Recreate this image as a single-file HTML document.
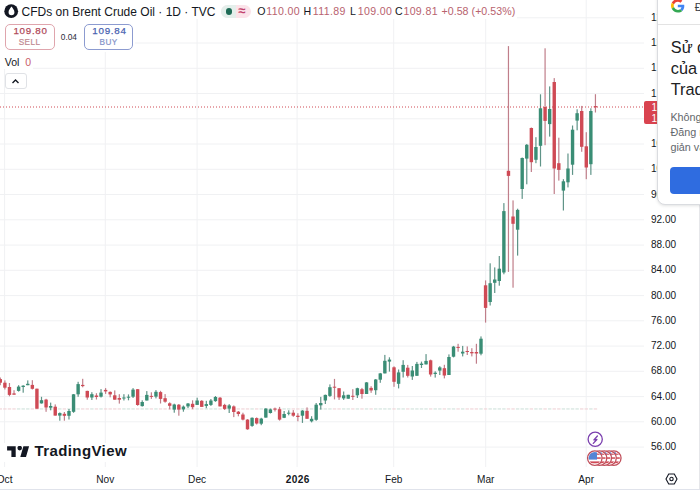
<!DOCTYPE html>
<html><head><meta charset="utf-8">
<style>
*{margin:0;padding:0;box-sizing:border-box}
html,body{width:700px;height:491px;overflow:hidden;background:#fff}
body{position:relative;font-family:"Liberation Sans",sans-serif;color:#131722}
.a{position:absolute;white-space:nowrap}
.pl{position:absolute;left:651px;font-size:10px;line-height:12px;color:#131722;width:30px}
.tl{position:absolute;top:474.3px;font-size:10.1px;line-height:12px;color:#131722;transform:translateX(-50%)}
.v{color:#b8626e;letter-spacing:0.35px}
.k{color:#131722}
</style></head><body>
<svg class="a" style="left:0;top:0" width="700" height="491" viewBox="0 0 700 491">
<line x1="0" y1="17.8" x2="644" y2="17.8" stroke="#f0f1f3" stroke-width="1"/>
<line x1="0" y1="43.0" x2="644" y2="43.0" stroke="#f0f1f3" stroke-width="1"/>
<line x1="0" y1="68.3" x2="644" y2="68.3" stroke="#f0f1f3" stroke-width="1"/>
<line x1="0" y1="93.5" x2="644" y2="93.5" stroke="#f0f1f3" stroke-width="1"/>
<line x1="0" y1="118.8" x2="644" y2="118.8" stroke="#f0f1f3" stroke-width="1"/>
<line x1="0" y1="144.0" x2="644" y2="144.0" stroke="#f0f1f3" stroke-width="1"/>
<line x1="0" y1="169.3" x2="644" y2="169.3" stroke="#f0f1f3" stroke-width="1"/>
<line x1="0" y1="194.5" x2="644" y2="194.5" stroke="#f0f1f3" stroke-width="1"/>
<line x1="0" y1="219.8" x2="644" y2="219.8" stroke="#f0f1f3" stroke-width="1"/>
<line x1="0" y1="245.1" x2="644" y2="245.1" stroke="#f0f1f3" stroke-width="1"/>
<line x1="0" y1="270.3" x2="644" y2="270.3" stroke="#f0f1f3" stroke-width="1"/>
<line x1="0" y1="295.6" x2="644" y2="295.6" stroke="#f0f1f3" stroke-width="1"/>
<line x1="0" y1="320.8" x2="644" y2="320.8" stroke="#f0f1f3" stroke-width="1"/>
<line x1="0" y1="346.1" x2="644" y2="346.1" stroke="#f0f1f3" stroke-width="1"/>
<line x1="0" y1="371.3" x2="644" y2="371.3" stroke="#f0f1f3" stroke-width="1"/>
<line x1="0" y1="396.6" x2="644" y2="396.6" stroke="#f0f1f3" stroke-width="1"/>
<line x1="0" y1="421.8" x2="644" y2="421.8" stroke="#f0f1f3" stroke-width="1"/>
<line x1="0" y1="447.1" x2="644" y2="447.1" stroke="#f0f1f3" stroke-width="1"/>
<line x1="4.6" y1="0" x2="4.6" y2="467" stroke="#f0f1f3" stroke-width="1"/>
<line x1="105.3" y1="0" x2="105.3" y2="467" stroke="#f0f1f3" stroke-width="1"/>
<line x1="197.1" y1="0" x2="197.1" y2="467" stroke="#f0f1f3" stroke-width="1"/>
<line x1="297.1" y1="0" x2="297.1" y2="467" stroke="#f0f1f3" stroke-width="1"/>
<line x1="393.7" y1="0" x2="393.7" y2="467" stroke="#f0f1f3" stroke-width="1"/>
<line x1="485.7" y1="0" x2="485.7" y2="467" stroke="#f0f1f3" stroke-width="1"/>
<line x1="586.2" y1="0" x2="586.2" y2="467" stroke="#f0f1f3" stroke-width="1"/>
<rect x="-1.40" y="408.4" width="3.4" height="1.1" fill="#efd2d6"/>
<rect x="3.18" y="408.4" width="3.4" height="1.1" fill="#efd2d6"/>
<rect x="7.76" y="408.4" width="3.4" height="1.1" fill="#efd2d6"/>
<rect x="12.33" y="408.4" width="3.4" height="1.1" fill="#efd2d6"/>
<rect x="16.91" y="408.4" width="3.4" height="1.1" fill="#cfe2db"/>
<rect x="21.49" y="408.4" width="3.4" height="1.1" fill="#cfe2db"/>
<rect x="26.07" y="408.4" width="3.4" height="1.1" fill="#cfe2db"/>
<rect x="30.65" y="408.4" width="3.4" height="1.1" fill="#efd2d6"/>
<rect x="35.22" y="408.4" width="3.4" height="1.1" fill="#efd2d6"/>
<rect x="39.80" y="408.4" width="3.4" height="1.1" fill="#cfe2db"/>
<rect x="44.38" y="408.4" width="3.4" height="1.1" fill="#efd2d6"/>
<rect x="48.96" y="408.4" width="3.4" height="1.1" fill="#cfe2db"/>
<rect x="53.54" y="408.4" width="3.4" height="1.1" fill="#efd2d6"/>
<rect x="58.11" y="408.4" width="3.4" height="1.1" fill="#cfe2db"/>
<rect x="62.69" y="408.4" width="3.4" height="1.1" fill="#efd2d6"/>
<rect x="67.27" y="408.4" width="3.4" height="1.1" fill="#cfe2db"/>
<rect x="71.85" y="408.4" width="3.4" height="1.1" fill="#cfe2db"/>
<rect x="76.43" y="408.4" width="3.4" height="1.1" fill="#cfe2db"/>
<rect x="81.00" y="408.4" width="3.4" height="1.1" fill="#efd2d6"/>
<rect x="85.58" y="408.4" width="3.4" height="1.1" fill="#efd2d6"/>
<rect x="90.16" y="408.4" width="3.4" height="1.1" fill="#cfe2db"/>
<rect x="94.74" y="408.4" width="3.4" height="1.1" fill="#efd2d6"/>
<rect x="99.32" y="408.4" width="3.4" height="1.1" fill="#cfe2db"/>
<rect x="103.89" y="408.4" width="3.4" height="1.1" fill="#efd2d6"/>
<rect x="108.47" y="408.4" width="3.4" height="1.1" fill="#efd2d6"/>
<rect x="113.05" y="408.4" width="3.4" height="1.1" fill="#efd2d6"/>
<rect x="117.63" y="408.4" width="3.4" height="1.1" fill="#efd2d6"/>
<rect x="122.21" y="408.4" width="3.4" height="1.1" fill="#cfe2db"/>
<rect x="126.78" y="408.4" width="3.4" height="1.1" fill="#cfe2db"/>
<rect x="131.36" y="408.4" width="3.4" height="1.1" fill="#cfe2db"/>
<rect x="135.94" y="408.4" width="3.4" height="1.1" fill="#efd2d6"/>
<rect x="140.52" y="408.4" width="3.4" height="1.1" fill="#cfe2db"/>
<rect x="145.10" y="408.4" width="3.4" height="1.1" fill="#cfe2db"/>
<rect x="149.67" y="408.4" width="3.4" height="1.1" fill="#efd2d6"/>
<rect x="154.25" y="408.4" width="3.4" height="1.1" fill="#cfe2db"/>
<rect x="158.83" y="408.4" width="3.4" height="1.1" fill="#efd2d6"/>
<rect x="163.41" y="408.4" width="3.4" height="1.1" fill="#efd2d6"/>
<rect x="167.99" y="408.4" width="3.4" height="1.1" fill="#efd2d6"/>
<rect x="172.56" y="408.4" width="3.4" height="1.1" fill="#cfe2db"/>
<rect x="177.14" y="408.4" width="3.4" height="1.1" fill="#efd2d6"/>
<rect x="181.72" y="408.4" width="3.4" height="1.1" fill="#cfe2db"/>
<rect x="186.30" y="408.4" width="3.4" height="1.1" fill="#cfe2db"/>
<rect x="190.88" y="408.4" width="3.4" height="1.1" fill="#efd2d6"/>
<rect x="195.45" y="408.4" width="3.4" height="1.1" fill="#cfe2db"/>
<rect x="200.03" y="408.4" width="3.4" height="1.1" fill="#efd2d6"/>
<rect x="204.61" y="408.4" width="3.4" height="1.1" fill="#cfe2db"/>
<rect x="209.19" y="408.4" width="3.4" height="1.1" fill="#cfe2db"/>
<rect x="213.77" y="408.4" width="3.4" height="1.1" fill="#cfe2db"/>
<rect x="218.34" y="408.4" width="3.4" height="1.1" fill="#efd2d6"/>
<rect x="222.92" y="408.4" width="3.4" height="1.1" fill="#efd2d6"/>
<rect x="227.50" y="408.4" width="3.4" height="1.1" fill="#cfe2db"/>
<rect x="232.08" y="408.4" width="3.4" height="1.1" fill="#efd2d6"/>
<rect x="236.66" y="408.4" width="3.4" height="1.1" fill="#efd2d6"/>
<rect x="241.23" y="408.4" width="3.4" height="1.1" fill="#efd2d6"/>
<rect x="245.81" y="408.4" width="3.4" height="1.1" fill="#efd2d6"/>
<rect x="250.39" y="408.4" width="3.4" height="1.1" fill="#cfe2db"/>
<rect x="254.97" y="408.4" width="3.4" height="1.1" fill="#efd2d6"/>
<rect x="259.55" y="408.4" width="3.4" height="1.1" fill="#cfe2db"/>
<rect x="264.12" y="408.4" width="3.4" height="1.1" fill="#cfe2db"/>
<rect x="268.70" y="408.4" width="3.4" height="1.1" fill="#cfe2db"/>
<rect x="273.28" y="408.4" width="3.4" height="1.1" fill="#efd2d6"/>
<rect x="277.86" y="408.4" width="3.4" height="1.1" fill="#efd2d6"/>
<rect x="282.44" y="408.4" width="3.4" height="1.1" fill="#cfe2db"/>
<rect x="287.01" y="408.4" width="3.4" height="1.1" fill="#cfe2db"/>
<rect x="291.59" y="408.4" width="3.4" height="1.1" fill="#efd2d6"/>
<rect x="296.17" y="408.4" width="3.4" height="1.1" fill="#efd2d6"/>
<rect x="300.75" y="408.4" width="3.4" height="1.1" fill="#cfe2db"/>
<rect x="305.33" y="408.4" width="3.4" height="1.1" fill="#efd2d6"/>
<rect x="309.90" y="408.4" width="3.4" height="1.1" fill="#cfe2db"/>
<rect x="314.48" y="408.4" width="3.4" height="1.1" fill="#cfe2db"/>
<rect x="319.06" y="408.4" width="3.4" height="1.1" fill="#cfe2db"/>
<rect x="323.64" y="408.4" width="3.4" height="1.1" fill="#cfe2db"/>
<rect x="328.22" y="408.4" width="3.4" height="1.1" fill="#cfe2db"/>
<rect x="332.79" y="408.4" width="3.4" height="1.1" fill="#efd2d6"/>
<rect x="337.37" y="408.4" width="3.4" height="1.1" fill="#efd2d6"/>
<rect x="341.95" y="408.4" width="3.4" height="1.1" fill="#cfe2db"/>
<rect x="346.53" y="408.4" width="3.4" height="1.1" fill="#cfe2db"/>
<rect x="351.11" y="408.4" width="3.4" height="1.1" fill="#efd2d6"/>
<rect x="355.68" y="408.4" width="3.4" height="1.1" fill="#cfe2db"/>
<rect x="360.26" y="408.4" width="3.4" height="1.1" fill="#efd2d6"/>
<rect x="364.84" y="408.4" width="3.4" height="1.1" fill="#cfe2db"/>
<rect x="369.42" y="408.4" width="3.4" height="1.1" fill="#efd2d6"/>
<rect x="374.00" y="408.4" width="3.4" height="1.1" fill="#cfe2db"/>
<rect x="378.57" y="408.4" width="3.4" height="1.1" fill="#cfe2db"/>
<rect x="383.15" y="408.4" width="3.4" height="1.1" fill="#cfe2db"/>
<rect x="387.73" y="408.4" width="3.4" height="1.1" fill="#cfe2db"/>
<rect x="392.31" y="408.4" width="3.4" height="1.1" fill="#efd2d6"/>
<rect x="396.89" y="408.4" width="3.4" height="1.1" fill="#cfe2db"/>
<rect x="401.46" y="408.4" width="3.4" height="1.1" fill="#cfe2db"/>
<rect x="406.04" y="408.4" width="3.4" height="1.1" fill="#efd2d6"/>
<rect x="410.62" y="408.4" width="3.4" height="1.1" fill="#cfe2db"/>
<rect x="415.20" y="408.4" width="3.4" height="1.1" fill="#cfe2db"/>
<rect x="419.78" y="408.4" width="3.4" height="1.1" fill="#cfe2db"/>
<rect x="424.35" y="408.4" width="3.4" height="1.1" fill="#cfe2db"/>
<rect x="428.93" y="408.4" width="3.4" height="1.1" fill="#efd2d6"/>
<rect x="433.51" y="408.4" width="3.4" height="1.1" fill="#cfe2db"/>
<rect x="438.09" y="408.4" width="3.4" height="1.1" fill="#cfe2db"/>
<rect x="442.67" y="408.4" width="3.4" height="1.1" fill="#efd2d6"/>
<rect x="447.24" y="408.4" width="3.4" height="1.1" fill="#cfe2db"/>
<rect x="451.82" y="408.4" width="3.4" height="1.1" fill="#cfe2db"/>
<rect x="456.40" y="408.4" width="3.4" height="1.1" fill="#efd2d6"/>
<rect x="460.98" y="408.4" width="3.4" height="1.1" fill="#cfe2db"/>
<rect x="465.56" y="408.4" width="3.4" height="1.1" fill="#efd2d6"/>
<rect x="470.13" y="408.4" width="3.4" height="1.1" fill="#efd2d6"/>
<rect x="474.71" y="408.4" width="3.4" height="1.1" fill="#efd2d6"/>
<rect x="479.29" y="408.4" width="3.4" height="1.1" fill="#cfe2db"/>
<rect x="483.87" y="408.4" width="3.4" height="1.1" fill="#efd2d6"/>
<rect x="488.45" y="408.4" width="3.4" height="1.1" fill="#cfe2db"/>
<rect x="493.02" y="408.4" width="3.4" height="1.1" fill="#cfe2db"/>
<rect x="497.60" y="408.4" width="3.4" height="1.1" fill="#cfe2db"/>
<rect x="502.18" y="408.4" width="3.4" height="1.1" fill="#cfe2db"/>
<rect x="506.76" y="408.4" width="3.4" height="1.1" fill="#efd2d6"/>
<rect x="511.34" y="408.4" width="3.4" height="1.1" fill="#efd2d6"/>
<rect x="515.91" y="408.4" width="3.4" height="1.1" fill="#cfe2db"/>
<rect x="520.49" y="408.4" width="3.4" height="1.1" fill="#cfe2db"/>
<rect x="525.07" y="408.4" width="3.4" height="1.1" fill="#cfe2db"/>
<rect x="529.65" y="408.4" width="3.4" height="1.1" fill="#efd2d6"/>
<rect x="534.23" y="408.4" width="3.4" height="1.1" fill="#cfe2db"/>
<rect x="538.80" y="408.4" width="3.4" height="1.1" fill="#cfe2db"/>
<rect x="543.38" y="408.4" width="3.4" height="1.1" fill="#efd2d6"/>
<rect x="547.96" y="408.4" width="3.4" height="1.1" fill="#cfe2db"/>
<rect x="552.54" y="408.4" width="3.4" height="1.1" fill="#efd2d6"/>
<rect x="557.12" y="408.4" width="3.4" height="1.1" fill="#efd2d6"/>
<rect x="561.69" y="408.4" width="3.4" height="1.1" fill="#cfe2db"/>
<rect x="566.27" y="408.4" width="3.4" height="1.1" fill="#cfe2db"/>
<rect x="570.85" y="408.4" width="3.4" height="1.1" fill="#cfe2db"/>
<rect x="575.43" y="408.4" width="3.4" height="1.1" fill="#cfe2db"/>
<rect x="580.01" y="408.4" width="3.4" height="1.1" fill="#efd2d6"/>
<rect x="584.58" y="408.4" width="3.4" height="1.1" fill="#efd2d6"/>
<rect x="589.16" y="408.4" width="3.4" height="1.1" fill="#cfe2db"/>
<rect x="593.74" y="408.4" width="3.4" height="1.1" fill="#efd2d6"/>
<rect x="-0.30" y="377.5" width="1.2" height="7.70" fill="#c07e8a"/>
<rect x="-1.40" y="379.1" width="3.4" height="3.60" fill="#cf4a55"/>
<rect x="4.28" y="380.4" width="1.2" height="9.10" fill="#c07e8a"/>
<rect x="3.18" y="382.7" width="3.4" height="5.00" fill="#cf4a55"/>
<rect x="8.86" y="383.0" width="1.2" height="13.30" fill="#c07e8a"/>
<rect x="7.76" y="387.0" width="3.4" height="7.90" fill="#cf4a55"/>
<rect x="13.43" y="390.2" width="1.2" height="4.50" fill="#c07e8a"/>
<rect x="12.33" y="393.4" width="3.4" height="1.30" fill="#cf4a55"/>
<rect x="18.01" y="385.2" width="1.2" height="6.40" fill="#5f9488"/>
<rect x="16.91" y="386.6" width="3.4" height="4.30" fill="#3a8d75"/>
<rect x="22.59" y="385.2" width="1.2" height="7.50" fill="#5f9488"/>
<rect x="21.49" y="385.7" width="3.4" height="1.30" fill="#3a8d75"/>
<rect x="27.17" y="380.4" width="1.2" height="4.80" fill="#5f9488"/>
<rect x="26.07" y="383.8" width="3.4" height="1.40" fill="#3a8d75"/>
<rect x="31.75" y="380.2" width="1.2" height="9.30" fill="#c07e8a"/>
<rect x="30.65" y="384.9" width="3.4" height="3.90" fill="#cf4a55"/>
<rect x="36.32" y="388.6" width="1.2" height="20.10" fill="#c07e8a"/>
<rect x="35.22" y="388.7" width="3.4" height="20.00" fill="#cf4a55"/>
<rect x="40.90" y="396.8" width="1.2" height="6.80" fill="#5f9488"/>
<rect x="39.80" y="400.2" width="3.4" height="3.20" fill="#3a8d75"/>
<rect x="45.48" y="398.8" width="1.2" height="13.00" fill="#c07e8a"/>
<rect x="44.38" y="399.6" width="3.4" height="7.90" fill="#cf4a55"/>
<rect x="50.06" y="402.6" width="1.2" height="7.70" fill="#5f9488"/>
<rect x="48.96" y="406.0" width="3.4" height="1.70" fill="#3a8d75"/>
<rect x="54.64" y="404.4" width="1.2" height="11.20" fill="#c07e8a"/>
<rect x="53.54" y="406.7" width="3.4" height="8.90" fill="#cf4a55"/>
<rect x="59.21" y="412.4" width="1.2" height="8.30" fill="#5f9488"/>
<rect x="58.11" y="413.1" width="3.4" height="2.50" fill="#3a8d75"/>
<rect x="63.79" y="412.0" width="1.2" height="8.70" fill="#c07e8a"/>
<rect x="62.69" y="413.8" width="3.4" height="2.00" fill="#cf4a55"/>
<rect x="68.37" y="409.0" width="1.2" height="10.50" fill="#5f9488"/>
<rect x="67.27" y="411.0" width="3.4" height="4.80" fill="#3a8d75"/>
<rect x="72.95" y="394.0" width="1.2" height="18.80" fill="#5f9488"/>
<rect x="71.85" y="394.3" width="3.4" height="17.50" fill="#3a8d75"/>
<rect x="77.53" y="381.8" width="1.2" height="15.00" fill="#5f9488"/>
<rect x="76.43" y="384.1" width="3.4" height="10.20" fill="#3a8d75"/>
<rect x="82.10" y="378.8" width="1.2" height="8.50" fill="#c07e8a"/>
<rect x="81.00" y="384.9" width="3.4" height="1.20" fill="#cf4a55"/>
<rect x="86.68" y="390.7" width="1.2" height="9.00" fill="#c07e8a"/>
<rect x="85.58" y="390.9" width="3.4" height="6.60" fill="#cf4a55"/>
<rect x="91.26" y="392.2" width="1.2" height="7.80" fill="#5f9488"/>
<rect x="90.16" y="394.2" width="3.4" height="3.30" fill="#3a8d75"/>
<rect x="95.84" y="393.2" width="1.2" height="6.30" fill="#c07e8a"/>
<rect x="94.74" y="395.5" width="3.4" height="1.50" fill="#cf4a55"/>
<rect x="100.42" y="389.1" width="1.2" height="8.40" fill="#5f9488"/>
<rect x="99.32" y="392.6" width="3.4" height="4.10" fill="#3a8d75"/>
<rect x="104.99" y="388.1" width="1.2" height="5.80" fill="#c07e8a"/>
<rect x="103.89" y="389.9" width="3.4" height="1.50" fill="#cf4a55"/>
<rect x="109.57" y="391.4" width="1.2" height="5.90" fill="#c07e8a"/>
<rect x="108.47" y="391.9" width="3.4" height="2.50" fill="#cf4a55"/>
<rect x="114.15" y="390.4" width="1.2" height="9.30" fill="#c07e8a"/>
<rect x="113.05" y="395.3" width="3.4" height="4.40" fill="#cf4a55"/>
<rect x="118.73" y="394.2" width="1.2" height="9.40" fill="#c07e8a"/>
<rect x="117.63" y="398.0" width="3.4" height="1.70" fill="#cf4a55"/>
<rect x="123.31" y="394.2" width="1.2" height="6.30" fill="#5f9488"/>
<rect x="122.21" y="397.5" width="3.4" height="1.00" fill="#3a8d75"/>
<rect x="127.88" y="394.4" width="1.2" height="5.90" fill="#5f9488"/>
<rect x="126.78" y="396.7" width="3.4" height="1.00" fill="#3a8d75"/>
<rect x="132.46" y="388.1" width="1.2" height="9.90" fill="#5f9488"/>
<rect x="131.36" y="389.6" width="3.4" height="7.10" fill="#3a8d75"/>
<rect x="137.04" y="389.0" width="1.2" height="16.80" fill="#c07e8a"/>
<rect x="135.94" y="389.2" width="3.4" height="15.80" fill="#cf4a55"/>
<rect x="141.62" y="400.3" width="1.2" height="6.30" fill="#5f9488"/>
<rect x="140.52" y="402.0" width="3.4" height="4.10" fill="#3a8d75"/>
<rect x="146.20" y="391.1" width="1.2" height="9.40" fill="#5f9488"/>
<rect x="145.10" y="394.9" width="3.4" height="5.60" fill="#3a8d75"/>
<rect x="150.77" y="392.3" width="1.2" height="6.60" fill="#c07e8a"/>
<rect x="149.67" y="395.9" width="3.4" height="1.00" fill="#cf4a55"/>
<rect x="155.35" y="390.1" width="1.2" height="8.30" fill="#5f9488"/>
<rect x="154.25" y="391.8" width="3.4" height="4.80" fill="#3a8d75"/>
<rect x="159.93" y="390.8" width="1.2" height="12.70" fill="#c07e8a"/>
<rect x="158.83" y="392.1" width="3.4" height="6.80" fill="#cf4a55"/>
<rect x="164.51" y="394.1" width="1.2" height="8.60" fill="#c07e8a"/>
<rect x="163.41" y="398.2" width="3.4" height="3.50" fill="#cf4a55"/>
<rect x="169.09" y="402.3" width="1.2" height="7.10" fill="#c07e8a"/>
<rect x="167.99" y="403.3" width="3.4" height="2.50" fill="#cf4a55"/>
<rect x="173.66" y="403.7" width="1.2" height="9.00" fill="#5f9488"/>
<rect x="172.56" y="404.5" width="3.4" height="5.10" fill="#3a8d75"/>
<rect x="178.24" y="404.0" width="1.2" height="11.70" fill="#c07e8a"/>
<rect x="177.14" y="404.7" width="3.4" height="4.90" fill="#cf4a55"/>
<rect x="182.82" y="405.5" width="1.2" height="6.20" fill="#5f9488"/>
<rect x="181.72" y="406.6" width="3.4" height="2.80" fill="#3a8d75"/>
<rect x="187.40" y="403.0" width="1.2" height="5.00" fill="#5f9488"/>
<rect x="186.30" y="403.5" width="3.4" height="2.90" fill="#3a8d75"/>
<rect x="191.98" y="400.3" width="1.2" height="8.90" fill="#c07e8a"/>
<rect x="190.88" y="403.8" width="3.4" height="3.40" fill="#cf4a55"/>
<rect x="196.55" y="397.7" width="1.2" height="7.20" fill="#5f9488"/>
<rect x="195.45" y="400.5" width="3.4" height="4.40" fill="#3a8d75"/>
<rect x="201.13" y="400.1" width="1.2" height="6.80" fill="#c07e8a"/>
<rect x="200.03" y="400.8" width="3.4" height="6.10" fill="#cf4a55"/>
<rect x="205.71" y="400.8" width="1.2" height="7.40" fill="#5f9488"/>
<rect x="204.61" y="404.1" width="3.4" height="1.80" fill="#3a8d75"/>
<rect x="210.29" y="399.0" width="1.2" height="6.90" fill="#5f9488"/>
<rect x="209.19" y="400.5" width="3.4" height="4.40" fill="#3a8d75"/>
<rect x="214.87" y="396.0" width="1.2" height="5.80" fill="#5f9488"/>
<rect x="213.77" y="397.0" width="3.4" height="4.10" fill="#3a8d75"/>
<rect x="219.44" y="397.0" width="1.2" height="9.40" fill="#c07e8a"/>
<rect x="218.34" y="397.7" width="3.4" height="8.70" fill="#cf4a55"/>
<rect x="224.02" y="403.8" width="1.2" height="6.20" fill="#c07e8a"/>
<rect x="222.92" y="404.9" width="3.4" height="4.00" fill="#cf4a55"/>
<rect x="228.60" y="404.1" width="1.2" height="8.90" fill="#5f9488"/>
<rect x="227.50" y="405.4" width="3.4" height="3.20" fill="#3a8d75"/>
<rect x="233.18" y="405.4" width="1.2" height="11.70" fill="#c07e8a"/>
<rect x="232.08" y="406.4" width="3.4" height="5.60" fill="#cf4a55"/>
<rect x="237.76" y="411.0" width="1.2" height="5.30" fill="#c07e8a"/>
<rect x="236.66" y="411.7" width="3.4" height="2.30" fill="#cf4a55"/>
<rect x="242.33" y="412.7" width="1.2" height="7.70" fill="#c07e8a"/>
<rect x="241.23" y="414.5" width="3.4" height="5.10" fill="#cf4a55"/>
<rect x="246.91" y="419.1" width="1.2" height="10.70" fill="#c07e8a"/>
<rect x="245.81" y="419.6" width="3.4" height="9.70" fill="#cf4a55"/>
<rect x="251.49" y="417.4" width="1.2" height="9.40" fill="#5f9488"/>
<rect x="250.39" y="417.8" width="3.4" height="8.10" fill="#3a8d75"/>
<rect x="256.07" y="417.4" width="1.2" height="7.10" fill="#c07e8a"/>
<rect x="254.97" y="418.1" width="3.4" height="5.40" fill="#cf4a55"/>
<rect x="260.65" y="417.8" width="1.2" height="7.40" fill="#5f9488"/>
<rect x="259.55" y="418.6" width="3.4" height="5.10" fill="#3a8d75"/>
<rect x="265.22" y="408.2" width="1.2" height="9.40" fill="#5f9488"/>
<rect x="264.12" y="408.6" width="3.4" height="9.00" fill="#3a8d75"/>
<rect x="269.80" y="408.6" width="1.2" height="4.90" fill="#5f9488"/>
<rect x="268.70" y="409.4" width="3.4" height="3.60" fill="#3a8d75"/>
<rect x="274.38" y="407.6" width="1.2" height="3.90" fill="#c07e8a"/>
<rect x="273.28" y="408.6" width="3.4" height="1.00" fill="#cf4a55"/>
<rect x="278.96" y="406.9" width="1.2" height="13.70" fill="#c07e8a"/>
<rect x="277.86" y="409.2" width="3.4" height="10.40" fill="#cf4a55"/>
<rect x="283.54" y="411.0" width="1.2" height="7.10" fill="#5f9488"/>
<rect x="282.44" y="414.0" width="3.4" height="3.80" fill="#3a8d75"/>
<rect x="288.11" y="410.3" width="1.2" height="5.00" fill="#5f9488"/>
<rect x="287.01" y="412.7" width="3.4" height="1.00" fill="#3a8d75"/>
<rect x="292.69" y="410.1" width="1.2" height="6.70" fill="#c07e8a"/>
<rect x="291.59" y="412.7" width="3.4" height="3.00" fill="#cf4a55"/>
<rect x="297.27" y="413.2" width="1.2" height="8.10" fill="#c07e8a"/>
<rect x="296.17" y="415.7" width="3.4" height="1.30" fill="#cf4a55"/>
<rect x="301.85" y="410.1" width="1.2" height="12.80" fill="#5f9488"/>
<rect x="300.75" y="410.6" width="3.4" height="5.10" fill="#3a8d75"/>
<rect x="306.43" y="407.4" width="1.2" height="11.40" fill="#c07e8a"/>
<rect x="305.33" y="410.8" width="3.4" height="8.00" fill="#cf4a55"/>
<rect x="311.00" y="416.2" width="1.2" height="6.20" fill="#5f9488"/>
<rect x="309.90" y="418.8" width="3.4" height="2.50" fill="#3a8d75"/>
<rect x="315.58" y="403.0" width="1.2" height="17.80" fill="#5f9488"/>
<rect x="314.48" y="404.7" width="3.4" height="15.10" fill="#3a8d75"/>
<rect x="320.16" y="396.9" width="1.2" height="12.70" fill="#5f9488"/>
<rect x="319.06" y="403.0" width="3.4" height="2.30" fill="#3a8d75"/>
<rect x="324.74" y="394.6" width="1.2" height="9.40" fill="#5f9488"/>
<rect x="323.64" y="394.9" width="3.4" height="5.60" fill="#3a8d75"/>
<rect x="329.32" y="384.4" width="1.2" height="12.50" fill="#5f9488"/>
<rect x="328.22" y="387.2" width="3.4" height="8.70" fill="#3a8d75"/>
<rect x="333.89" y="378.9" width="1.2" height="20.50" fill="#c07e8a"/>
<rect x="332.79" y="386.7" width="3.4" height="1.00" fill="#cf4a55"/>
<rect x="338.47" y="388.2" width="1.2" height="11.70" fill="#c07e8a"/>
<rect x="337.37" y="388.2" width="3.4" height="9.20" fill="#cf4a55"/>
<rect x="343.05" y="391.5" width="1.2" height="8.40" fill="#5f9488"/>
<rect x="341.95" y="395.3" width="3.4" height="3.10" fill="#3a8d75"/>
<rect x="347.63" y="394.8" width="1.2" height="3.90" fill="#5f9488"/>
<rect x="346.53" y="394.8" width="3.4" height="3.90" fill="#3a8d75"/>
<rect x="352.21" y="389.2" width="1.2" height="10.80" fill="#c07e8a"/>
<rect x="351.11" y="395.8" width="3.4" height="1.00" fill="#cf4a55"/>
<rect x="356.78" y="387.7" width="1.2" height="10.30" fill="#5f9488"/>
<rect x="355.68" y="388.2" width="3.4" height="7.10" fill="#3a8d75"/>
<rect x="361.36" y="387.9" width="1.2" height="10.80" fill="#c07e8a"/>
<rect x="360.26" y="389.2" width="3.4" height="4.80" fill="#cf4a55"/>
<rect x="365.94" y="382.1" width="1.2" height="11.90" fill="#5f9488"/>
<rect x="364.84" y="382.4" width="3.4" height="11.60" fill="#3a8d75"/>
<rect x="370.52" y="386.2" width="1.2" height="6.60" fill="#c07e8a"/>
<rect x="369.42" y="387.9" width="3.4" height="2.60" fill="#cf4a55"/>
<rect x="375.10" y="379.0" width="1.2" height="15.80" fill="#5f9488"/>
<rect x="374.00" y="379.5" width="3.4" height="10.70" fill="#3a8d75"/>
<rect x="379.67" y="372.9" width="1.2" height="9.90" fill="#5f9488"/>
<rect x="378.57" y="373.4" width="3.4" height="6.30" fill="#3a8d75"/>
<rect x="384.25" y="354.9" width="1.2" height="18.50" fill="#5f9488"/>
<rect x="383.15" y="360.8" width="3.4" height="12.60" fill="#3a8d75"/>
<rect x="388.83" y="357.3" width="1.2" height="14.30" fill="#5f9488"/>
<rect x="387.73" y="359.6" width="3.4" height="2.00" fill="#3a8d75"/>
<rect x="393.41" y="366.3" width="1.2" height="20.50" fill="#c07e8a"/>
<rect x="392.31" y="367.3" width="3.4" height="14.50" fill="#cf4a55"/>
<rect x="397.99" y="369.5" width="1.2" height="18.90" fill="#5f9488"/>
<rect x="396.89" y="372.4" width="3.4" height="11.40" fill="#3a8d75"/>
<rect x="402.56" y="360.2" width="1.2" height="17.30" fill="#5f9488"/>
<rect x="401.46" y="364.9" width="3.4" height="6.90" fill="#3a8d75"/>
<rect x="407.14" y="364.9" width="1.2" height="12.60" fill="#c07e8a"/>
<rect x="406.04" y="367.7" width="3.4" height="8.10" fill="#cf4a55"/>
<rect x="411.72" y="366.0" width="1.2" height="13.90" fill="#5f9488"/>
<rect x="410.62" y="370.5" width="3.4" height="6.00" fill="#3a8d75"/>
<rect x="416.30" y="361.9" width="1.2" height="13.90" fill="#5f9488"/>
<rect x="415.20" y="363.9" width="3.4" height="11.90" fill="#3a8d75"/>
<rect x="420.88" y="361.6" width="1.2" height="6.40" fill="#5f9488"/>
<rect x="419.78" y="363.6" width="3.4" height="1.40" fill="#3a8d75"/>
<rect x="425.45" y="354.1" width="1.2" height="10.30" fill="#5f9488"/>
<rect x="424.35" y="360.9" width="3.4" height="3.50" fill="#3a8d75"/>
<rect x="430.03" y="359.6" width="1.2" height="17.00" fill="#c07e8a"/>
<rect x="428.93" y="360.3" width="3.4" height="14.20" fill="#cf4a55"/>
<rect x="434.61" y="371.3" width="1.2" height="6.30" fill="#5f9488"/>
<rect x="433.51" y="372.7" width="3.4" height="1.30" fill="#3a8d75"/>
<rect x="439.19" y="366.2" width="1.2" height="8.80" fill="#5f9488"/>
<rect x="438.09" y="367.4" width="3.4" height="3.20" fill="#3a8d75"/>
<rect x="443.77" y="364.8" width="1.2" height="13.60" fill="#c07e8a"/>
<rect x="442.67" y="368.2" width="3.4" height="7.30" fill="#cf4a55"/>
<rect x="448.34" y="354.4" width="1.2" height="20.60" fill="#5f9488"/>
<rect x="447.24" y="357.0" width="3.4" height="18.00" fill="#3a8d75"/>
<rect x="452.92" y="345.9" width="1.2" height="11.50" fill="#5f9488"/>
<rect x="451.82" y="346.6" width="3.4" height="10.10" fill="#3a8d75"/>
<rect x="457.50" y="343.8" width="1.2" height="7.90" fill="#c07e8a"/>
<rect x="456.40" y="346.9" width="3.4" height="1.00" fill="#cf4a55"/>
<rect x="462.08" y="345.9" width="1.2" height="10.50" fill="#5f9488"/>
<rect x="460.98" y="351.7" width="3.4" height="1.80" fill="#3a8d75"/>
<rect x="466.66" y="346.4" width="1.2" height="8.60" fill="#c07e8a"/>
<rect x="465.56" y="351.0" width="3.4" height="1.00" fill="#cf4a55"/>
<rect x="471.23" y="348.2" width="1.2" height="8.20" fill="#c07e8a"/>
<rect x="470.13" y="352.0" width="3.4" height="1.30" fill="#cf4a55"/>
<rect x="475.81" y="343.8" width="1.2" height="19.90" fill="#c07e8a"/>
<rect x="474.71" y="352.0" width="3.4" height="1.50" fill="#cf4a55"/>
<rect x="480.39" y="336.4" width="1.2" height="18.90" fill="#5f9488"/>
<rect x="479.29" y="338.7" width="3.4" height="15.00" fill="#3a8d75"/>
<rect x="484.97" y="280.4" width="1.2" height="42.20" fill="#c07e8a"/>
<rect x="483.87" y="285.3" width="3.4" height="22.60" fill="#cf4a55"/>
<rect x="489.55" y="263.3" width="1.2" height="42.20" fill="#5f9488"/>
<rect x="488.45" y="283.2" width="3.4" height="18.80" fill="#3a8d75"/>
<rect x="494.12" y="267.4" width="1.2" height="25.60" fill="#5f9488"/>
<rect x="493.02" y="279.5" width="3.4" height="3.30" fill="#3a8d75"/>
<rect x="498.70" y="256.0" width="1.2" height="29.70" fill="#5f9488"/>
<rect x="497.60" y="268.7" width="3.4" height="12.30" fill="#3a8d75"/>
<rect x="503.28" y="203.1" width="1.2" height="71.20" fill="#5f9488"/>
<rect x="502.18" y="211.1" width="3.4" height="61.40" fill="#3a8d75"/>
<rect x="507.86" y="46.1" width="1.2" height="225.80" fill="#c07e8a"/>
<rect x="506.76" y="170.8" width="3.4" height="5.10" fill="#cf4a55"/>
<rect x="512.44" y="200.4" width="1.2" height="87.30" fill="#c07e8a"/>
<rect x="511.34" y="216.5" width="3.4" height="7.30" fill="#cf4a55"/>
<rect x="517.01" y="208.7" width="1.2" height="46.90" fill="#5f9488"/>
<rect x="515.91" y="209.9" width="3.4" height="19.80" fill="#3a8d75"/>
<rect x="521.59" y="157.5" width="1.2" height="41.40" fill="#5f9488"/>
<rect x="520.49" y="158.0" width="3.4" height="31.00" fill="#3a8d75"/>
<rect x="526.17" y="144.0" width="1.2" height="40.30" fill="#5f9488"/>
<rect x="525.07" y="144.8" width="3.4" height="13.80" fill="#3a8d75"/>
<rect x="530.75" y="127.5" width="1.2" height="44.50" fill="#c07e8a"/>
<rect x="529.65" y="128.0" width="3.4" height="34.20" fill="#cf4a55"/>
<rect x="535.33" y="137.2" width="1.2" height="26.00" fill="#5f9488"/>
<rect x="534.23" y="147.0" width="3.4" height="12.80" fill="#3a8d75"/>
<rect x="539.90" y="94.3" width="1.2" height="72.20" fill="#5f9488"/>
<rect x="538.80" y="108.3" width="3.4" height="37.50" fill="#3a8d75"/>
<rect x="544.48" y="48.3" width="1.2" height="96.90" fill="#c07e8a"/>
<rect x="543.38" y="107.0" width="3.4" height="13.90" fill="#cf4a55"/>
<rect x="549.06" y="86.4" width="1.2" height="50.20" fill="#5f9488"/>
<rect x="547.96" y="109.0" width="3.4" height="15.10" fill="#3a8d75"/>
<rect x="553.64" y="78.1" width="1.2" height="115.90" fill="#c07e8a"/>
<rect x="552.54" y="82.0" width="3.4" height="86.50" fill="#cf4a55"/>
<rect x="558.22" y="137.7" width="1.2" height="42.90" fill="#c07e8a"/>
<rect x="557.12" y="163.2" width="3.4" height="6.70" fill="#cf4a55"/>
<rect x="562.79" y="179.2" width="1.2" height="31.30" fill="#5f9488"/>
<rect x="561.69" y="181.3" width="3.4" height="9.30" fill="#3a8d75"/>
<rect x="567.37" y="153.5" width="1.2" height="33.90" fill="#5f9488"/>
<rect x="566.27" y="168.5" width="3.4" height="13.80" fill="#3a8d75"/>
<rect x="571.95" y="125.5" width="1.2" height="49.40" fill="#5f9488"/>
<rect x="570.85" y="129.7" width="3.4" height="35.00" fill="#3a8d75"/>
<rect x="576.53" y="109.3" width="1.2" height="21.00" fill="#5f9488"/>
<rect x="575.43" y="113.2" width="3.4" height="7.40" fill="#3a8d75"/>
<rect x="581.11" y="105.9" width="1.2" height="45.90" fill="#c07e8a"/>
<rect x="580.01" y="111.0" width="3.4" height="35.80" fill="#cf4a55"/>
<rect x="585.68" y="132.2" width="1.2" height="47.00" fill="#c07e8a"/>
<rect x="584.58" y="146.3" width="3.4" height="21.20" fill="#cf4a55"/>
<rect x="590.26" y="108.3" width="1.2" height="66.60" fill="#5f9488"/>
<rect x="589.16" y="111.0" width="3.4" height="53.20" fill="#3a8d75"/>
<rect x="594.84" y="94.2" width="1.2" height="18.30" fill="#c07e8a"/>
<rect x="593.74" y="106.1" width="3.4" height="1.25" fill="#cf4a55"/>
<line x1="0" y1="107" x2="644" y2="107" stroke="#cf4a55" stroke-width="1" stroke-dasharray="1 2"/>
</svg>
<div class="pl" style="top:11.8px">124.00</div>
<div class="pl" style="top:37.0px">120.00</div>
<div class="pl" style="top:62.3px">1</div>
<div class="pl" style="top:87.5px">1</div>
<div class="pl" style="top:112.8px">108.00</div>
<div class="pl" style="top:138.0px">104.00</div>
<div class="pl" style="top:163.3px">100.00</div>
<div class="pl" style="top:188.5px">96.00</div>
<div class="pl" style="top:213.8px">92.00</div>
<div class="pl" style="top:239.1px">88.00</div>
<div class="pl" style="top:264.3px">84.00</div>
<div class="pl" style="top:289.6px">80.00</div>
<div class="pl" style="top:314.8px">76.00</div>
<div class="pl" style="top:340.1px">72.00</div>
<div class="pl" style="top:365.3px">68.00</div>
<div class="pl" style="top:390.6px">64.00</div>
<div class="pl" style="top:415.8px">60.00</div>
<div class="pl" style="top:441.1px">56.00</div>
<!-- legend -->
<div class="a" style="left:0;top:0;width:517px;height:19px;background:#fff"></div>
<div class="a" style="left:0;top:19px;width:135px;height:32.5px;background:#fff"></div>
<div class="a" style="left:0;top:51.5px;width:32.5px;height:17px;background:#fff"></div>

<svg class="a" style="left:4px;top:4px" width="15" height="15" viewBox="0 0 15 15">
<circle cx="7.2" cy="7.2" r="6.9" fill="#131722"/>
<path transform="translate(7.5 7.2)" d="M0 -4.6 C1.2 -2.8 2.95 -1.2 2.95 1.1 A2.95 2.95 0 0 1 -2.95 1.1 C-2.95 -1.2 -1.2 -2.8 0 -4.6Z" fill="#fff"/>
</svg>
<div class="a" style="left:21.6px;top:4.7px;font-size:12px;line-height:14px;letter-spacing:0px;color:#131722">CFDs on Brent Crude Oil · 1D · TVC</div>
<div class="a" style="left:221px;top:4.5px;width:29.5px;height:13.5px;border-radius:7px;overflow:hidden;background:#fbe3e9">
 <div class="a" style="left:0;top:0;width:15px;height:13.5px;background:#e4efeb"></div>
 <div class="a" style="left:4.8px;top:3.8px;width:6.4px;height:6.4px;border-radius:50%;background:#1e6b56"></div>
 <div class="a" style="left:17.3px;top:-0.8px;font-size:13px;line-height:14px;font-weight:bold;color:#c2406b">≈</div>
</div>
<div class="a" style="left:0;top:5.2px;font-size:10.6px;line-height:13px">
<span class="a k" style="left:257.2px">O</span><span class="a v" style="left:266.3px">110.00</span>
<span class="a k" style="left:303.6px">H</span><span class="a v" style="left:312.8px">111.89</span>
<span class="a k" style="left:350px">L</span><span class="a v" style="left:357.8px">109.00</span>
<span class="a k" style="left:395px">C</span><span class="a v" style="left:403.4px">109.81</span>
<span class="a v" style="left:441.5px;letter-spacing:0.05px">+0.58 (+0.53%)</span>
</div>
<!-- sell / buy -->
<div class="a" style="left:4.5px;top:23.5px;width:50.3px;height:26px;border:1px solid #dfa5ad;border-radius:5px;background:#fff"></div>
<div class="a" style="left:4.5px;top:25.4px;width:50.3px;text-align:center;font-size:9.8px;line-height:11px;color:#b04a5a;letter-spacing:0.72px;text-indent:1.8px;-webkit-text-stroke:0.25px #b04a5a">109.80</div>
<div class="a" style="left:4.5px;top:38px;width:50.3px;text-align:center;font-size:8.2px;line-height:9px;color:#c08890;letter-spacing:0.5px;-webkit-text-stroke:0.2px #c08890">SELL</div>
<div class="a" style="left:60.8px;top:31.5px;font-size:8.3px;line-height:10px;color:#2a2e39">0.04</div>
<div class="a" style="left:84px;top:23.5px;width:49.3px;height:26px;border:1px solid #8c9bd0;border-radius:5px;background:#fff"></div>
<div class="a" style="left:84px;top:25.4px;width:49.3px;text-align:center;font-size:9.8px;line-height:11px;color:#4862b0;letter-spacing:0.72px;text-indent:1.6px;-webkit-text-stroke:0.25px #4862b0">109.84</div>
<div class="a" style="left:84px;top:38px;width:49.3px;text-align:center;font-size:8.2px;line-height:9px;color:#8492c8;letter-spacing:0.5px;-webkit-text-stroke:0.2px #8492c8">BUY</div>
<!-- vol -->
<div class="a" style="left:4.8px;top:56.2px;font-size:10.5px;line-height:12px;color:#131722">Vol</div>
<div class="a" style="left:25.3px;top:56.2px;font-size:10.5px;line-height:12px;color:#c9606b">0</div>
<div class="a" style="left:4.5px;top:73px;width:22px;height:15.5px;border:1px solid #e0e2e6;border-radius:3px;background:#fff"></div>
<svg class="a" style="left:11px;top:77px" width="9" height="9" viewBox="0 0 9 9"><path d="M1.5 6 L4.5 3 L7.5 6" fill="none" stroke="#131722" stroke-width="1.4"/></svg>
<!-- current price label -->
<div class="a" style="left:644.3px;top:100.7px;width:20px;height:23.6px;background:#d9434f;border-radius:2px 0 0 2px"></div>
<div class="a" style="left:651.5px;top:101.5px;font-size:10px;line-height:11px;color:#fff">109.81<br>1d 3h</div>
<!-- tv logo -->
<div class="a" style="left:0;top:442.5px;width:128px;height:19px;background:#fff"></div>
<svg class="a" style="left:7px;top:446px" width="23" height="11" viewBox="0 0 23 11">
<path d="M0.1 0.2 H8.7 V11 H4.4 V4.6 H0.1 Z" fill="#131722"/>
<circle cx="12.7" cy="2.1" r="2.3" fill="#131722"/>
<path d="M16.4 0.2 H22.1 L19 11 H13.3 Z" fill="#131722"/>
</svg>
<div class="a" style="left:34.5px;top:443.2px;font-size:15px;line-height:16px;font-weight:bold;letter-spacing:0.4px;color:#131722">TradingView</div>
<!-- time axis -->
<div class="tl" style="left:4.6px">Oct</div>
<div class="tl" style="left:105.3px">Nov</div>
<div class="tl" style="left:197.1px">Dec</div>
<div class="tl" style="left:297.8px;font-weight:bold;letter-spacing:0.4px">2026</div>
<div class="tl" style="left:393.7px">Feb</div>
<div class="tl" style="left:485.7px">Mar</div>
<div class="tl" style="left:586.2px">Apr</div>
<div class="a" style="left:0;top:488.5px;width:700px;height:1px;background:#e0e3eb"></div>
<!-- settings -->
<svg class="a" style="left:665px;top:473px" width="13" height="12" viewBox="0 0 13 12">
<path d="M3.7 1 H9.3 L12 6 L9.3 11 H3.7 L1 6 Z" fill="none" stroke="#131722" stroke-width="1.1"/>
<circle cx="6.5" cy="6" r="1.7" fill="none" stroke="#131722" stroke-width="1.1"/>
</svg>
<!-- lightning -->
<svg class="a" style="left:587px;top:431px" width="17" height="17" viewBox="0 0 17 17">
<circle cx="8.2" cy="8.3" r="7.1" fill="#fff" stroke="#7a3fae" stroke-width="1.3"/>
<path d="M10.4 5 L6.9 8.9 L9.9 8.5 L6.3 12.4" fill="none" stroke="#7a3fae" stroke-width="1.3" stroke-linecap="round" stroke-linejoin="round"/>
</svg>
<!-- flags -->
<svg class="a" style="left:586px;top:449px" width="38" height="19" viewBox="0 0 38 19">
<defs><clipPath id="fc"><circle cx="0" cy="0" r="6.1"/></clipPath>
<g id="flag"><circle r="7.6" fill="#fff"/><circle r="7.25" fill="none" stroke="#c04e5a" stroke-width="1.3"/>
<g clip-path="url(#fc)"><rect x="-7" y="-7" width="14" height="14" fill="#fff"/>
<rect x="-7" y="-4.6" width="14" height="1.3" fill="#d04a56"/><rect x="-7" y="-0.8" width="14" height="1.5" fill="#d04a56"/><rect x="-7" y="3.3" width="14" height="1.9" fill="#d04a56"/>
<rect x="-7" y="-7" width="9.2" height="8.5" fill="#5585d5"/></g></g></defs>
<use href="#flag" transform="translate(27.8,9.1)"/>
<use href="#flag" transform="translate(23.05,9.1)"/>
<use href="#flag" transform="translate(18.3,9.1)"/>
<use href="#flag" transform="translate(13.55,9.1)"/>
<use href="#flag" transform="translate(8.8,9.1)"/>
</svg>
<div class="a" style="left:698.8px;top:204px;width:1px;height:285px;background:#e6e7ea"></div>
<!-- google popup -->
<div class="a" style="left:657.4px;top:-10px;width:60px;height:215.2px;background:#fff;border:1px solid #dadce0;border-radius:0 0 0 8px;box-shadow:0 1px 3px rgba(60,64,67,0.15);overflow:hidden">
 <svg class="a" style="left:12.6px;top:8.2px" width="13.6" height="13.6" viewBox="0 0 48 48">
  <path fill="#EA4335" d="M24 9.5c3.54 0 6.71 1.22 9.21 3.6l6.85-6.85C35.9 2.38 30.47 0 24 0 14.62 0 6.51 5.38 2.56 13.22l7.98 6.19C12.43 13.72 17.74 9.5 24 9.5z"/>
  <path fill="#4285F4" d="M46.98 24.55c0-1.57-.15-3.09-.38-4.55H24v9.02h12.94c-.58 2.96-2.26 5.48-4.78 7.18l7.73 6c4.51-4.18 7.09-10.36 7.09-17.65z"/>
  <path fill="#FBBC05" d="M10.53 28.59c-.48-1.45-.76-2.99-.76-4.59s.27-3.14.76-4.59l-7.98-6.19C.92 16.46 0 20.12 0 24c0 3.88.92 7.54 2.56 10.78l7.97-6.19z"/>
  <path fill="#34A853" d="M24 48c6.48 0 11.93-2.13 15.89-5.81l-7.73-6c-2.15 1.45-4.92 2.3-8.16 2.3-6.26 0-11.57-4.22-13.47-9.91l-7.98 6.19C6.51 42.62 14.62 48 24 48z"/>
 </svg>
 <div class="a" style="left:36.4px;top:10px;font-size:11px;line-height:13px;color:#3c4043">Đăng</div>
 <div class="a" style="left:0;top:32.9px;width:60px;height:1px;background:#e3e3e3"></div>
 <div class="a" style="left:12.4px;top:45.6px;font-size:16.3px;line-height:21px;color:#202124">Sử dụng<br>của bạn<br>TradingView</div>
 <div class="a" style="left:12px;top:119px;font-size:10.8px;line-height:14.8px;color:#63676c">Không cần<br>Đăng nhập<br>giản và</div>
 <div class="a" style="left:11.6px;top:176px;width:60px;height:27px;background:#2f6ce0;border-radius:4px"></div>
</div>
</body></html>
